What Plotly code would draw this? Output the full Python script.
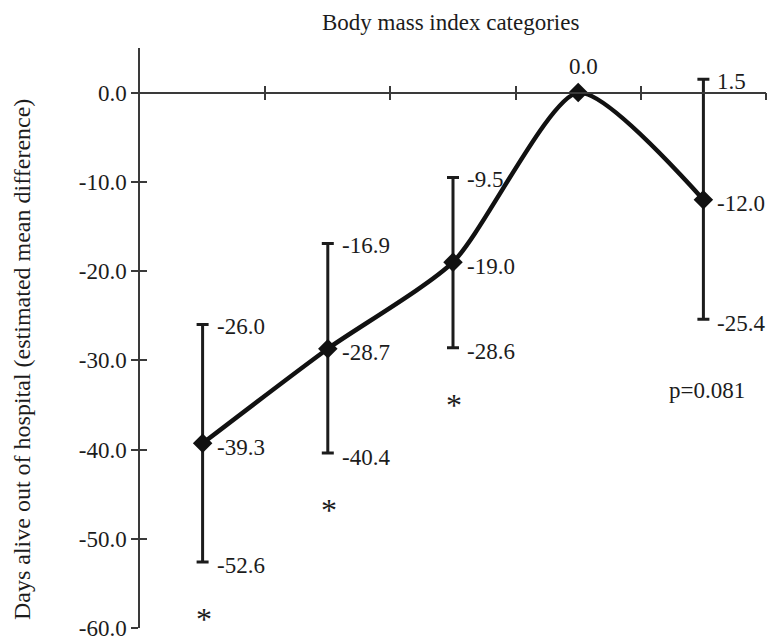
import plotly.graph_objects as go

# Estimated mean difference in days alive out of hospital, by BMI category
means = [-39.3, -28.7, -19.0, 0.0, -12.0]
upper = [-26.0, -16.9, -9.5, None, 1.5]
lower = [-52.6, -40.4, -28.6, None, -25.4]
significant = [True, True, True, False, False]
p_value_text = "p=0.081"

y_ticks = [0, -10, -20, -30, -40, -50, -60]
y_tick_text = [f"{v:.1f}" for v in y_ticks]

x_pos = [i + 0.5 for i in range(len(means))]
FONT = "Liberation Serif, Times New Roman, serif"
INK = "#1c1c1c"
AXIS = "#3a3a3a"
FS = 23

fig = go.Figure()

# confidence intervals (categories with an interval only)
ci_idx = [i for i in range(len(means)) if upper[i] is not None]
fig.add_trace(go.Scatter(
    x=[x_pos[i] for i in ci_idx],
    y=[means[i] for i in ci_idx],
    mode="markers",
    marker=dict(size=1, color="rgba(0,0,0,0)"),
    error_y=dict(
        type="data", symmetric=False,
        array=[upper[i] - means[i] for i in ci_idx],
        arrayminus=[means[i] - lower[i] for i in ci_idx],
        color=INK, thickness=3, width=6,
    ),
    hoverinfo="skip", showlegend=False,
))

# smoothed mean line with diamond markers
fig.add_trace(go.Scatter(
    x=x_pos, y=means,
    mode="lines+markers",
    line=dict(color="#111111", width=4.5, shape="spline", smoothing=0.65),
    marker=dict(symbol="diamond", size=15, color="#111111"),
    showlegend=False,
))

# helper trace so the mirrored tick axes are drawn
fig.add_trace(go.Scatter(
    x=[0.5], y=[0], xaxis="x2", yaxis="y2", mode="markers",
    marker=dict(size=1, color="rgba(0,0,0,0)"), hoverinfo="skip", showlegend=False,
))

annotations = []
lab_font = dict(family=FONT, size=FS, color=INK)


def add_label(x, y, text, font=lab_font, **kw):
    annotations.append(dict(x=x, y=y, xref="x", yref="y", text=text, showarrow=False,
                            font=font, **kw))


for i, m in enumerate(means):
    if upper[i] is None:
        add_label(x_pos[i], m, f"{m:.1f}", xanchor="center", yanchor="middle",
                  xshift=5, yshift=26)
        continue
    add_label(x_pos[i], m, f"{m:.1f}", xanchor="left", yanchor="middle", xshift=12, yshift=-4)
    add_label(x_pos[i], upper[i], f"{upper[i]:.1f}", xanchor="left", yanchor="middle",
              xshift=12, yshift=-2)
    add_label(x_pos[i], lower[i], f"{lower[i]:.1f}", xanchor="left", yanchor="middle",
              xshift=12, yshift=-4)
    if significant[i]:
        add_label(x_pos[i], lower[i] - 5.5, "*", xanchor="center", yanchor="middle",
                  yshift=-8, xshift=1, font=dict(family=FONT, size=32, color=INK))

add_label(x_pos[-1], -33.0, p_value_text, xanchor="center", yanchor="middle", xshift=4, yshift=-3)

# axis titles
annotations.append(dict(x=0.5, y=1, xref="paper", yref="paper", text="Body mass index categories",
                        showarrow=False, xanchor="center", yanchor="middle", yshift=26, xshift=-3,
                        font=dict(family=FONT, size=FS, color=INK)))
annotations.append(dict(x=0, y=0.462, xref="paper", yref="paper",
                        text="Days alive out of hospital (estimated mean difference)",
                        showarrow=False, textangle=-90, xanchor="center", yanchor="middle",
                        xshift=-118, font=dict(family=FONT, size=24, color=INK)))

y_range = [-60, 5]
x_range = [0, 5]
zero_frac = (0 - y_range[0]) / (y_range[1] - y_range[0])

common_x = dict(range=x_range, tickvals=[1, 2, 3, 4, 5], showticklabels=False,
                showgrid=False, zeroline=False, ticklen=7, tickwidth=1.5, tickcolor=AXIS,
                anchor="free", position=zero_frac)
common_y = dict(range=y_range, tickvals=y_ticks, showgrid=False, zeroline=False,
                ticklen=7, tickwidth=1.5, tickcolor=AXIS)

fig.update_layout(
    width=769, height=644,
    margin=dict(l=140, r=3, t=48, b=12),
    paper_bgcolor="white", plot_bgcolor="white",
    xaxis=dict(**common_x, ticks="outside", showline=True, linecolor=AXIS, linewidth=1.5),
    xaxis2=dict(**common_x, ticks="inside", showline=False, overlaying="x"),
    yaxis=dict(**common_y, ticks="outside", ticktext=y_tick_text, showline=True,
               linecolor=AXIS, linewidth=1.5, ticklabeloverflow="allow",
               tickfont=dict(family=FONT, size=FS, color=INK)),
    yaxis2=dict(**common_y, ticks="inside", showticklabels=False, showline=False,
                overlaying="y", side="left"),
    annotations=annotations,
)

fig.write_html("out.html")
